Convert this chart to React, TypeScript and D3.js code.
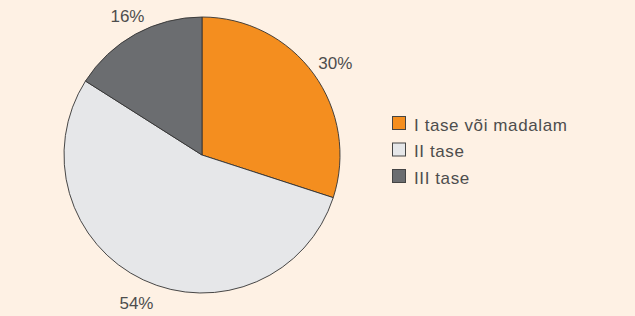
import { useEffect, useRef } from "react";
import * as d3 from "d3";

const LABELS = ["I tase või madalam", "II tase", "III tase"];
const VALUES = [30, 54, 16];
const COLORS = ["#f48e1f", "#e6e7e9", "#6b6d70"];

const W = 635, H = 316;
const FONT = "'Liberation Sans', Arial, Helvetica, sans-serif";

export default function App() {
  const svgRef = useRef<SVGSVGElement | null>(null);

  useEffect(() => {
    if (!svgRef.current) return;
    const svg = d3.select(svgRef.current);
    svg.selectAll("*").remove();

    svg.append("rect").attr("width", W).attr("height", H).attr("fill", "#fef1e4");

    const cx = 202, cy = 155, r = 138;
    const g = svg.append("g").attr("transform", `translate(${cx},${cy})`);

    const data = LABELS.map((label, i) => ({ label, value: VALUES[i], color: COLORS[i] }));
    const pie = d3.pie<any>().value(d => d.value).sort(null);
    const arcs = pie(data);
    const arc = d3.arc<any>().innerRadius(0).outerRadius(r);
    const labelArc = d3.arc<any>().innerRadius(161).outerRadius(161);

    g.selectAll("path.slice").data(arcs).enter().append("path")
      .attr("class", "slice")
      .attr("d", arc)
      .attr("fill", d => d.data.color)
      .attr("stroke", "#333")
      .attr("stroke-width", 0.9);

    // percentage labels outside the pie
    g.selectAll("text.pct").data(arcs).enter().append("text")
      .attr("class", "pct")
      .attr("transform", d => {
        const [x, y] = labelArc.centroid(d);
        return `translate(${x + 3},${y + 4})`;
      })
      .attr("text-anchor", "middle")
      .attr("dominant-baseline", "middle")
      .attr("font-family", FONT).attr("font-size", 17)
      .attr("fill", "#4d4d4d")
      .text(d => `${d.data.value}%`);

    // legend
    const lg = svg.append("g").attr("transform", "translate(392,116)");
    data.forEach((d, i) => {
      const y = i * 26.5;
      lg.append("rect")
        .attr("x", 0.5).attr("y", y + 0.5).attr("width", 13).attr("height", 13)
        .attr("fill", d.color).attr("stroke", "#444").attr("stroke-width", 1);
      lg.append("text")
        .attr("x", 22).attr("y", y + 14.5)
        .attr("font-family", FONT).attr("font-size", 17)
        .attr("letter-spacing", 0.6)
        .attr("fill", "#4d4d4d")
        .text(d.label);
    });
  }, []);

  return (
    <div style={{ position: "fixed", left: 0, top: 0, width: W, height: H }}>
      <svg ref={svgRef} width={W} height={H} style={{ display: "block" }} />
    </div>
  );
}
